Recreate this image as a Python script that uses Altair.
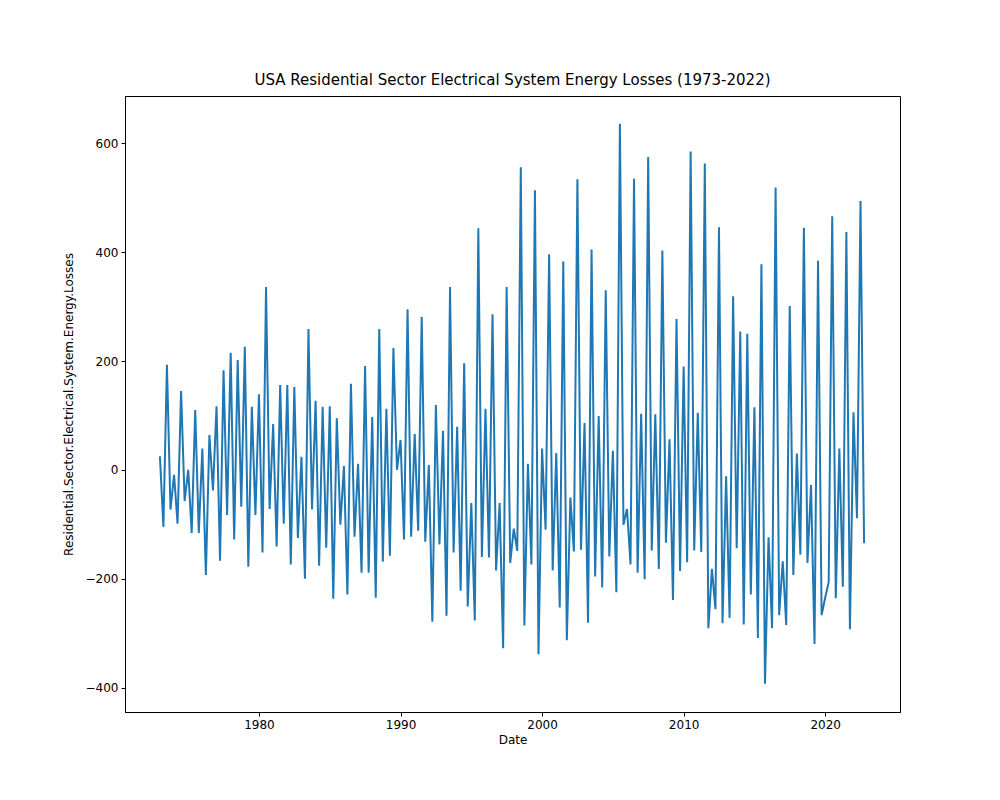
import altair as alt
import pandas as pd

values = [25,-105,193,-73,-9,-99,145,-57,0,-116,
110,-116,39,-193,64,-38,117,-167,183,-83,
215,-128,202,-68,226,-178,116,-83,139,-152,
336,-72,84,-141,156,-99,156,-174,152,-125,
24,-200,259,-73,127,-176,116,-143,117,-237,
95,-101,7,-229,158,-123,11,-189,191,-189,
97,-235,259,-169,112,-158,224,0,
55,-128,295,-123,66,-112,281,-132,9,-279,
119,-137,72,-268,336,-152,79,-222,196,-251,
-61,-277,444,-160,112,-161,286,-185,-61,-328,
336,-171,-108,-149,556,-286,11,-174,514,-339,
39,-110,396,-185,31,-253,383,-313,-51,-150,
534,-147,86,-281,405,-196,99,-216,330,-159,
35,-225,636,-101,-72,-174,535,-189,
103,-201,575,-148,102,-182,403,-134,56,-239,
277,-186,190,-170,585,-148,105,-151,563,-291,
-182,-256,446,-282,-12,-272,319,-144,254,-284,
250,-229,115,-309,378,-393,-124,-291,519,-267,
-168,-285,301,-193,30,-156,445,-171,-28,-320,
384,-267,-235,-206,466,-236,39,-215,437,-293,
106,-89,494,-135]

dates = pd.date_range("1973-01-01", periods=len(values), freq="QS")
df = pd.DataFrame({"Date": dates, "v": values})

font = "DejaVu Sans"
chart = alt.Chart(df).mark_line(color="#1f77b4", strokeWidth=2).encode(
    x=alt.X("Date:T", title="Date",
            scale=alt.Scale(domain=["1970-07-15", "2025-04-15"], nice=False),
            axis=alt.Axis(format="%Y", tickCount=alt.TimeIntervalStep(interval="year", step=10),
                          grid=False, labelFlush=False)),
    y=alt.Y("v:Q", title="Residential.Sector.Electrical.System.Energy.Losses",
            scale=alt.Scale(domain=[-445, 687], nice=False, zero=False),
            axis=alt.Axis(values=[-400, -200, 0, 200, 400, 600], grid=False, titlePadding=10)),
).properties(
    width=775, height=616,
    title=alt.TitleParams("USA Residential Sector Electrical System Energy Losses (1973-2022)",
                          fontSize=15, fontWeight="normal", font=font, offset=8),
    padding={"left": 117, "top": 88, "right": 92, "bottom": 60},
    autosize=alt.AutoSizeParams(type="none"),
).configure_axis(
    labelFont=font, titleFont=font, labelFontSize=12, titleFontSize=12,
    titleFontWeight="normal", domainColor="black", tickColor="black",
    labelColor="black", titleColor="black", tickSize=4, labelPadding=3
).configure_view(stroke="black", strokeWidth=1)

chart.save("out.html", embed_options={"renderer": "svg", "actions": False})
